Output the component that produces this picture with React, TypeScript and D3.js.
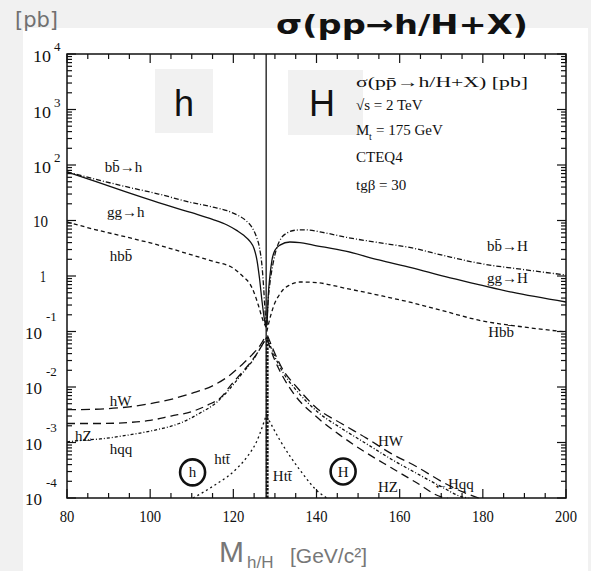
import React from "react";
import * as d3 from "d3";

const W = 591;
const H = 571;

// Cross sections sigma(p pbar -> h/H + X) in pb, as [mass in GeV, sigma]
const bbToLight = [[80, 75], [87, 55], [94, 41], [102, 30], [110, 21], [115, 17.5], [118.5, 15], [121, 12.5], [123, 10], [124.5, 7.5], [125.5, 5.2], [126.3, 3.2], [126.9, 1.5], [127.3, 0.6], [127.6, 0.25], [127.85, 0.13]];
const ggToLight = [[80, 75], [87, 50], [94, 33], [102, 21], [110, 13.8], [115, 10.5], [118.5, 8.3], [121, 6.5], [122.5, 5.4], [124, 4.2], [125, 3.1], [125.7, 1.9], [126.3, 0.9], [126.9, 0.35], [127.4, 0.18], [127.85, 0.12]];
const lightBB = [[80, 9.4], [87, 6.8], [94, 5.1], [102, 3.6], [110, 2.4], [115, 1.85], [120, 1.38], [122.5, 0.95], [124, 0.72], [125, 0.5], [126, 0.3], [127, 0.17], [127.85, 0.12]];
const lightW = [[80, 0.0039], [88, 0.004], [95, 0.0044], [100, 0.005], [105, 0.006], [110, 0.0077], [115, 0.0105], [119, 0.016], [122, 0.025], [124.5, 0.038], [126.5, 0.057], [127.85, 0.085]];
const lightZ = [[80, 0.0022], [88, 0.0022], [95, 0.0023], [100, 0.0025], [105, 0.003], [110, 0.0036], [114, 0.0048], [117, 0.0065], [119.5, 0.011], [122, 0.018], [124.5, 0.03], [126.5, 0.05], [127.85, 0.075]];
const lightQQ = [[80, 0.00103], [84, 0.0011], [88, 0.00116], [93, 0.0013], [98, 0.0015], [103, 0.0018], [107, 0.0022], [112, 0.0034], [116, 0.0053], [119.5, 0.01], [122, 0.017], [124.5, 0.029], [126.5, 0.05], [127.85, 0.075]];
const lightTT = [[110.3, 0.0001], [113, 0.00013], [116, 0.00018], [118.5, 0.00024], [121, 0.00035], [123.3, 0.00055], [125.5, 0.001], [127.85, 0.003]];

const bbToHeavy = [[128.05, 0.13], [128.3, 0.3], [128.8, 0.74], [129.5, 1.6], [130.5, 3.3], [131.5, 4.8], [133, 6.0], [135, 6.7], [137, 6.8], [142, 6.0], [147, 5.0], [155, 4.0], [163, 3.2], [171, 2.3], [179, 1.7], [190, 1.3], [200, 1.04]];
const ggToHeavy = [[128.1, 0.13], [128.4, 0.45], [128.8, 1.0], [129.3, 1.95], [130, 2.9], [131.2, 3.6], [133.6, 4.1], [136, 4.0], [139.2, 3.6], [147, 2.8], [155, 1.95], [163, 1.4], [171, 0.97], [179, 0.7], [187, 0.51], [200, 0.34]];
const heavyBB = [[128.05, 0.1], [128.5, 0.14], [129.2, 0.22], [130, 0.33], [131, 0.45], [132, 0.57], [133.6, 0.69], [136, 0.78], [140, 0.76], [147, 0.6], [155, 0.45], [163, 0.33], [171, 0.23], [179, 0.16], [190, 0.12], [200, 0.098]];
const heavyW = [[128.2, 0.085], [130, 0.04], [132, 0.02], [135, 0.0105], [140, 0.0042], [146, 0.0022], [152, 0.0012], [158, 0.00063], [164, 0.00037], [170, 0.0002], [175, 0.00013], [179, 0.0001]];
const heavyQQ = [[128.2, 0.075], [130, 0.035], [132, 0.018], [135, 0.009], [140, 0.0037], [146, 0.0018], [152, 0.00095], [158, 0.0005], [164, 0.00028], [170, 0.00016], [175, 0.000105], [176.5, 0.0001]];
const heavyZ = [[128.2, 0.07], [130, 0.03], [132, 0.015], [135, 0.0068], [140, 0.0029], [146, 0.0013], [152, 0.00065], [158, 0.00035], [164, 0.00019], [170, 0.000105], [171.5, 0.0001]];
const heavyTT = [[128.05, 0.003], [131.2, 0.0011], [136, 0.00032], [140.8, 0.000122], [142.5, 0.0001]];

// Upper bound of the light scalar mass and the overlapping low-rate curves there
const boundaryMass = 127.9;
const pileupSegment = [[128.15, 0.0001], [128.15, 0.08]];

// Axis ticks
const massTickLabels = [80, 100, 120, 140, 160, 180, 200];
const decadeExponents = [-4, -3, -2, -1, 0, 1, 2, 3, 4];

// Curve annotations, placed at [mass, sigma]
const curveLabels = [
  { text: "bb\u0304\u2192h", m: 89.1, v: 75 },
  { text: "gg\u2192h", m: 89.6, v: 11.6 },
  { text: "hbb\u0304", m: 90.3, v: 1.86 },
  { text: "bb\u0304\u2192H", m: 181, v: 2.8 },
  { text: "gg\u2192H", m: 181, v: 0.75 },
  { text: "Hbb\u0304", m: 181.3, v: 0.08 },
  { text: "hW", m: 90.3, v: 0.00455 },
  { text: "hZ", m: 81.9, v: 0.00106 },
  { text: "hqq", m: 90.3, v: 0.00062 },
  { text: "htt\u0304", m: 115.4, v: 0.00041 },
  { text: "Htt\u0304", m: 129.5, v: 0.0002 },
  { text: "HW", m: 154.8, v: 0.00086 },
  { text: "HZ", m: 154.8, v: 0.000128 },
  { text: "\u2190Hqq", m: 168, v: 0.000145 },
];
const circledLabels = [
  { text: "h", m: 110.2, v: 0.00029 },
  { text: "H", m: 146.4, v: 0.0003 },
];

const x = d3.scaleLinear().domain([80, 200]).range([67, 566]);
const y = d3.scaleLog().domain([1e-4, 1e4]).range([498, 54]);

const line = d3
  .line<number[]>()
  .x((d) => x(d[0]))
  .y((d) => y(d[1]))
  .curve(d3.curveMonotoneX);

const straight = d3
  .line<number[]>()
  .x((d) => x(d[0]))
  .y((d) => y(d[1]));

const SOLID = undefined;
const BB_DASH = "5,2,1,2";
const HBB_DASH = "4,3";
const W_DASH = "9,5";
const Z_DASH = "8,5";
const QQ_DASH = "3,2,1,2";
const TT_DASH = "2,3";

const series = [
  { d: bbToLight, dash: BB_DASH },
  { d: ggToLight, dash: SOLID },
  { d: lightBB, dash: HBB_DASH },
  { d: lightW, dash: W_DASH },
  { d: lightZ, dash: Z_DASH },
  { d: lightQQ, dash: QQ_DASH },
  { d: lightTT, dash: TT_DASH },
  { d: bbToHeavy, dash: BB_DASH },
  { d: ggToHeavy, dash: SOLID },
  { d: heavyBB, dash: HBB_DASH },
  { d: heavyW, dash: W_DASH },
  { d: heavyQQ, dash: QQ_DASH },
  { d: heavyZ, dash: Z_DASH },
  { d: heavyTT, dash: TT_DASH },
];

const SERIF = "'Liberation Serif', 'DejaVu Serif', serif";
const SANS = "'Liberation Sans', Arial, sans-serif";

export default function App() {
  const [x0, x1] = x.range();
  const [yb, yt] = y.range();

  const massTicks = d3.range(80, 201, 5);
  const logTicks: { v: number; major: boolean }[] = [];
  decadeExponents.forEach((e) => {
    logTicks.push({ v: Math.pow(10, e), major: true });
    if (e < 4) for (let k = 2; k <= 9; k++) logTicks.push({ v: k * Math.pow(10, e), major: false });
  });

  return (
    <svg
      width={W}
      height={H}
      style={{ position: "absolute", left: 0, top: 0, display: "block" }}
    >
      <rect x={0} y={0} width={W} height={H} fill="#f1f1f1" />
      <rect x={23} y={28} width={565} height={H - 28} fill="#ffffff" />

      {/* region boxes */}
      <rect x={155} y={69} width={58} height={64} fill="#f1f1f1" />
      <rect x={288} y={70} width={75} height={65} fill="#f1f1f1" />
      <text x={184} y={116} textAnchor="middle" fontFamily={SANS} fontSize={36} fill="#111">h</text>
      <text x={322} y={116} textAnchor="middle" fontFamily={SANS} fontSize={36} fill="#111">H</text>

      {/* title */}
      <text x={276} y={34} fontFamily="'DejaVu Sans', sans-serif" fontWeight="bold" fontSize={26} fill="#111" textLength={252} lengthAdjust="spacingAndGlyphs">
        σ(pp→h/H+X)
      </text>
      <text x={15} y={27} fontFamily="'DejaVu Sans', sans-serif" fontSize={21} fill="#707070">[pb]</text>

      {/* frame ticks */}
      <g stroke="#111" strokeWidth={1.2}>
        {massTicks.map((m) => {
          const len = m % 20 === 0 ? 9 : 5;
          return (
            <g key={"mt" + m}>
              <line x1={x(m)} x2={x(m)} y1={yb} y2={yb - len} />
              <line x1={x(m)} x2={x(m)} y1={yt} y2={yt + len} />
            </g>
          );
        })}
        {logTicks.map((t, i) => {
          const len = t.major ? 9 : 5;
          return (
            <g key={"lt" + i}>
              <line x1={x0} x2={x0 + len} y1={y(t.v)} y2={y(t.v)} />
              <line x1={x1} x2={x1 - len} y1={y(t.v)} y2={y(t.v)} />
            </g>
          );
        })}
      </g>

      {/* mass boundary */}
      <line x1={x(boundaryMass)} x2={x(boundaryMass)} y1={yt} y2={yb} stroke="#333" strokeWidth={1.5} />

      {/* cross section curves */}
      <g fill="none" stroke="#111" strokeWidth={1.3}>
        {series.map((s, i) => (
          <path key={i} d={line(s.d as number[][]) || ""} strokeDasharray={s.dash} />
        ))}
        <path d={straight(pileupSegment as number[][]) || ""} strokeWidth={2.8} strokeDasharray="2.5,1.2" />
      </g>

      {/* frame */}
      <rect x={x0} y={yt} width={x1 - x0} height={yb - yt} fill="none" stroke="#111" strokeWidth={1.5} />

      {/* mass tick labels */}
      <g fontFamily={SERIF} fontSize={17} fill="#111" textAnchor="middle">
        {massTickLabels.map((m) => (
          <text key={"ml" + m} x={x(m)} y={yb + 24} textLength={String(m).length * 7.3} lengthAdjust="spacingAndGlyphs">{m}</text>
        ))}
      </g>

      {/* sigma tick labels */}
      <g fontFamily={SERIF} fill="#111">
        {decadeExponents.map((e) => {
          const ty = y(Math.pow(10, e));
          if (e === 0) return <text key={"yl" + e} x={40} y={ty + 6} fontSize={17} textLength={6} lengthAdjust="spacingAndGlyphs">1</text>;
          if (e === 1) return <text key={"yl" + e} x={33} y={ty + 6} fontSize={17} textLength={15} lengthAdjust="spacingAndGlyphs">10</text>;
          if (e > 1)
            return (
              <g key={"yl" + e}>
                <text x={33} y={ty + 8} fontSize={17} textLength={18} lengthAdjust="spacingAndGlyphs">10</text>
                <text x={54} y={ty - 3} fontSize={13}>{e}</text>
              </g>
            );
          return (
            <g key={"yl" + e}>
              <text x={25} y={ty + 7} fontSize={17} textLength={17} lengthAdjust="spacingAndGlyphs">10</text>
              <text x={46} y={ty - 11} fontSize={13}>{e}</text>
            </g>
          );
        })}
      </g>

      {/* curve annotations */}
      <g fontFamily={SERIF} fontSize={15} fill="#111">
        {curveLabels.map((l) => (
          <text key={l.text} x={x(l.m)} y={y(l.v)}>{l.text}</text>
        ))}
      </g>
      {circledLabels.map((c) => (
        <g key={c.text}>
          <ellipse cx={x(c.m)} cy={y(c.v)} rx={12.5} ry={13} fill="none" stroke="#111" strokeWidth={2.6} />
          <text x={x(c.m)} y={y(c.v) + 5} textAnchor="middle" fontFamily={SERIF} fontSize={15} fill="#111">{c.text}</text>
        </g>
      ))}

      {/* parameters */}
      <g fontFamily={SERIF} fontSize={15} fill="#111">
        <text x={356} y={87} fontSize={15} textLength={172} lengthAdjust="spacingAndGlyphs">σ(pp̄→h/H+X) [pb]</text>
        <text x={356} y={110}>√s = 2 TeV</text>
        <text x={356} y={135}>M</text>
        <text x={369} y={140} fontSize={10}>t</text>
        <text x={376} y={135}>= 175 GeV</text>
        <text x={356} y={162}>CTEQ4</text>
        <text x={356} y={190}>tgβ = 30</text>
      </g>

      {/* x axis title */}
      <g fontFamily={SANS} fill="#777">
        <text x={219} y={562} fontSize={30}>M</text>
        <text x={247} y={568} fontSize={17}>h/H</text>
        <text x={290} y={563} fontSize={21}>[GeV/c²]</text>
      </g>
    </svg>
  );
}
